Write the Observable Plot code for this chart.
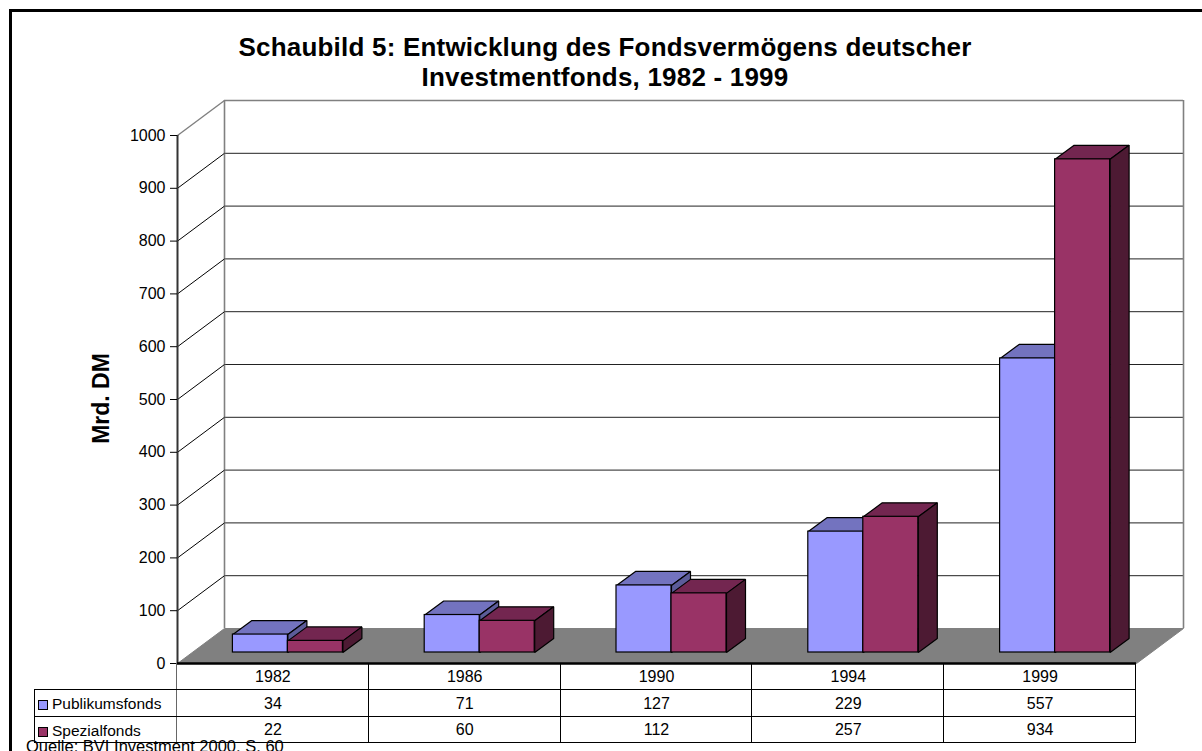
<!DOCTYPE html>
<html><head><meta charset="utf-8">
<script src="https://cdn.jsdelivr.net/npm/d3@7"></script>
<script src="https://cdn.jsdelivr.net/npm/@observablehq/plot@0.6"></script>
<style>
html,body{margin:0;padding:0;background:#fff;}
body{width:1202px;height:751px;overflow:hidden;position:relative;font-family:"Liberation Sans",Arial,sans-serif;color:#000;}
#frame{position:absolute;left:9px;top:9px;width:1300px;height:900px;border-left:3px solid #000;border-top:3px solid #000;box-sizing:border-box;}
#title{position:absolute;left:4px;top:32px;width:1202px;text-align:center;font-weight:bold;font-size:26px;letter-spacing:0.2px;line-height:30px;}
#chart{position:absolute;left:0;top:95px;}
.ln{position:absolute;background:#000;}
.cell{position:absolute;text-align:center;font-size:16px;}
.leg{position:absolute;font-size:15.5px;white-space:nowrap;}
.sw{position:absolute;width:10px;height:10px;box-sizing:border-box;border:1px solid #000;}
#source{position:absolute;left:26px;top:737px;font-size:16.5px;white-space:nowrap;}
</style></head>
<body>
<div id="frame"></div>
<div id="title"></div>
<div id="chart"></div>
<div id="table"></div>
<div id="source"></div>
<script>
// ---- data ----
const years = ["1982", "1986", "1990", "1994", "1999"];
const seriesNames = ["Publikumsfonds", "Spezialfonds"];
const publikumsfonds = [34, 71, 127, 229, 557];
const spezialfonds = [22, 60, 112, 257, 934];
const yTicks = [0, 100, 200, 300, 400, 500, 600, 700, 800, 900, 1000];
const titleLines = ["Schaubild 5: Entwicklung des Fondsvermögens deutscher", "Investmentfonds, 1982 - 1999"];
const yLabel = "Mrd. DM";
const sourceText = "Quelle: BVI Investment 2000, S. 60";

// ---- styles ----
const colors = {
  front: ["#9999FF", "#993366"],
  top: ["#7373BF", "#732650"],
  side: ["#5C5C99", "#4D1A33"]
};

// ---- layout ----
const W = 1202, H = 575, mL = 177, mR = 66, mT = 40, mB = 7, svgTop = 95;
const n = years.length;
const yMax = 1000;
const pxX = (W - mL - mR) / n;          // px per category unit
const pxY = (H - mT - mB) / yMax;       // px per value unit
const wallPx = {dx: 47, dy: -35};
const wall = {dx: wallPx.dx / pxX, dy: -wallPx.dy / pxY};
const bar = {w: 55 / pxX, dx: 19 / pxX, dy: 14 / pxY};
const barShift = {dx: 14.5, dy: -11};

document.getElementById("title").innerHTML = titleLines.join("<br>");
document.getElementById("source").textContent = sourceText;

// bars
const values = [publikumsfonds, spezialfonds];
const bars = [];
values.forEach((vals, s) => vals.forEach((v, i) => {
  const x1 = i + 0.5 - bar.w + s * bar.w;
  bars.push({s, i, v, x1, x2: x1 + bar.w, id: s + "-" + i});
}));
function topFace(b) {
  return [[b.x1, b.v], [b.x2, b.v], [b.x2 + bar.dx, b.v + bar.dy], [b.x1 + bar.dx, b.v + bar.dy], [b.x1, b.v]]
    .map(([x, y]) => ({id: b.id, x, y}));
}
function sideFace(b) {
  return [[b.x2, b.v], [b.x2 + bar.dx, b.v + bar.dy], [b.x2 + bar.dx, bar.dy], [b.x2, 0], [b.x2, b.v]]
    .map(([x, y]) => ({id: b.id, x, y}));
}
const floor = [[0, 0], [n, 0], [n + wall.dx, wall.dy], [wall.dx, wall.dy], [0, 0]].map(([x, y]) => ({x, y}));

const barMarks = [];
[0, 1].forEach(s => {
  const bs = bars.filter(b => b.s === s);
  const common = {stroke: "#000", strokeWidth: 1.2, strokeLinejoin: "miter", dx: barShift.dx, dy: barShift.dy};
  barMarks.push(Plot.line(bs.flatMap(topFace), {x: "x", y: "y", z: "id", fill: colors.top[s], ...common}));
  barMarks.push(Plot.line(bs.flatMap(sideFace), {x: "x", y: "y", z: "id", fill: colors.side[s], ...common}));
  barMarks.push(Plot.rect(bs, {x1: "x1", x2: "x2", y1: 0, y2: "v", fill: colors.front[s], ...common}));
});

const inner = yTicks.filter(t => t > 0 && t < yMax);
const chart = Plot.plot({
  width: W, height: H,
  marginLeft: mL, marginRight: mR, marginTop: mT, marginBottom: mB,
  style: {fontFamily: '"Liberation Sans", Arial, sans-serif', fontSize: "16px", background: "transparent", overflow: "visible"},
  x: {type: "linear", domain: [0, n], axis: null},
  y: {domain: [0, yMax], axis: null},
  marks: [
    // back wall gridlines and border
    Plot.ruleY(inner, {x1: 0, x2: n, dx: wallPx.dx, dy: wallPx.dy, stroke: "#222", strokeWidth: 1}),
    Plot.ruleY([yMax], {x1: 0, x2: n, dx: wallPx.dx, dy: wallPx.dy, stroke: "#808080", strokeWidth: 1.6}),
    Plot.ruleX([0, n], {y1: 0, y2: yMax, dx: wallPx.dx, dy: wallPx.dy, stroke: "#808080", strokeWidth: 1.6}),
    // side wall diagonals
    Plot.link(inner, {x1: 0, y1: d => d, x2: wall.dx, y2: d => d + wall.dy, stroke: "#000", strokeWidth: 1}),
    Plot.link([yMax], {x1: 0, y1: d => d, x2: wall.dx, y2: d => d + wall.dy, stroke: "#808080", strokeWidth: 1.4}),
    // floor
    Plot.line(floor, {x: "x", y: "y", fill: "#808080", stroke: "#808080", strokeWidth: 1}),
    // axes
    Plot.ruleX([0], {y1: 0, y2: yMax, stroke: "#333", strokeWidth: 2}),
    Plot.axisY(yTicks, {anchor: "left", tickSize: 7, tickPadding: 5, tickFormat: "d", fontSize: 16, label: null, stroke: "#000"}),
    Plot.text([yLabel], {frameAnchor: "left", textAnchor: "middle", rotate: -90, dx: -76, dy: -1, fontSize: 23, fontWeight: "bold", fill: "#000"}),
    ...barMarks,
    Plot.ruleY([0], {x1: 0, x2: n, stroke: "#000", strokeWidth: 2.5})
  ]
});
document.getElementById("chart").appendChild(chart);

// ---- data table ----
const tbl = document.getElementById("table");
const y0 = svgTop + H - mB;
const rows = [y0, y0 + 27, y0 + 54, y0 + 80];
const legX = 34;
function line(x, y, w, h, color) {
  const d = document.createElement("div");
  d.className = "ln";
  Object.assign(d.style, {left: x + "px", top: y + "px", width: w + "px", height: h + "px", background: color || "#000"});
  tbl.appendChild(d);
}
function cell(text, x, y, w, h) {
  const d = document.createElement("div");
  d.className = "cell";
  Object.assign(d.style, {left: x + "px", top: y + "px", width: w + "px", height: h + "px", lineHeight: h + "px"});
  d.textContent = text;
  tbl.appendChild(d);
}
const colX = i => mL + i * pxX;
years.forEach((yr, i) => {
  cell(yr, colX(i), rows[0], pxX, rows[1] - rows[0]);
  values.forEach((vals, s) => cell(String(vals[i]), colX(i), rows[s + 1], pxX, rows[s + 2] - rows[s + 1]));
});
for (let i = 1; i <= n; i++) line(Math.round(colX(i)) - 1, rows[0], 1, rows[3] - rows[0]);
line(mL - 1, rows[0], 1, rows[3] - rows[0], "#666");
line(legX, rows[1], 1, rows[3] - rows[1]);
[1, 2, 3].forEach(r => line(legX, rows[r] - 1, Math.round(colX(n)) - legX, 1));
seriesNames.forEach((name, s) => {
  const sw = document.createElement("div");
  sw.className = "sw";
  Object.assign(sw.style, {left: "38px", top: (rows[s + 1] + 10) + "px", background: colors.front[s]});
  tbl.appendChild(sw);
  const t = document.createElement("div");
  t.className = "leg";
  const h = rows[s + 2] - rows[s + 1];
  Object.assign(t.style, {left: "52px", top: rows[s + 1] + "px", height: h + "px", lineHeight: (h + 1) + "px"});
  t.textContent = name;
  tbl.appendChild(t);
});
</script>
</body></html>
